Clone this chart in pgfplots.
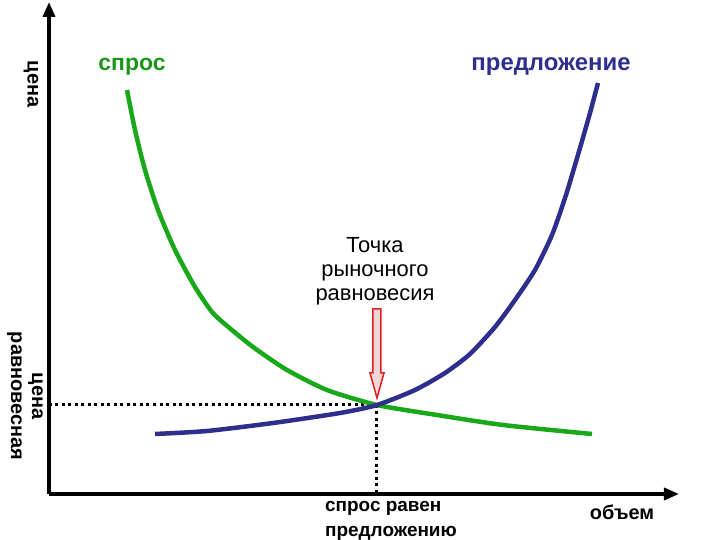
\documentclass[border=0pt]{standalone}
\usepackage{pgfplots}
\pgfplotsset{compat=1.18}
\usepackage{fontspec}
\setmainfont{Liberation Sans}
\usetikzlibrary{arrows.meta}
\definecolor{dgreen}{RGB}{25,168,25}
\definecolor{tgreen}{RGB}{25,150,25}
\definecolor{navy}{RGB}{46,46,140}
\definecolor{arrfill}{RGB}{240,214,214}
\definecolor{arrred}{RGB}{225,30,30}
\begin{document}
\begin{tikzpicture}
\useasboundingbox (-49bp,-46bp) rectangle (671bp,494bp);
\begin{axis}[
  scale only axis, width=630bp, height=492bp,
  xmin=0, xmax=630, ymin=0, ymax=492,
  axis lines=left,
  axis line style={line width=3.5bp, -{Triangle[length=15bp,width=12bp]}},
  xtick=\empty, ytick=\empty,
  clip=false,
]
% dotted guides
\addplot[black, line width=3bp, dash pattern=on 3bp off 3.5bp] coordinates {(0,89) (328,89)};
\addplot[black, line width=3bp, dash pattern=on 3bp off 3.5bp] coordinates {(328,89) (328,0)};
% demand
\addplot[dgreen, line width=4.5bp, smooth, tension=0.4] coordinates {
(78,404) (86,364) (96,324) (109,284) (126,244) (146,207) (163,182) (177,169)
(204,147) (238,124) (278,104) (328,89) (388,79) (454,69) (543,60)};
% supply
\addplot[navy, line width=4.5bp, smooth, tension=0.4] coordinates {
(106,60) (158,63) (224,71) (291,81) (328,89) (366,104) (396,121) (421,140)
(446,167) (466,194) (486,224) (503,259) (517,299) (531,346) (541,381) (549,411)};
% equilibrium arrow
\addplot[draw=arrred, fill=arrfill, line width=1.5bp] coordinates {
(324,185) (332,185) (332,121) (335,121) (328,96) (321,121) (324,121)} -- cycle;
% texts
\node[text=tgreen, font=\fontsize{23}{26}\selectfont\bfseries] at (axis cs:83,427) {спрос};
\node[text=navy, font=\fontsize{24}{26}\selectfont\bfseries] at (axis cs:502,427) {предложение};
\node[rotate=-90, font=\fontsize{20}{24}\selectfont\bfseries] at (axis cs:-18,410) {цена};
\node[rotate=-90, align=center, font=\fontsize{20}{21}\selectfont\bfseries] at (axis cs:-24,98) {цена\\равновесная};
\node[align=center, font=\fontsize{22}{24}\selectfont] at (axis cs:326,223) {Точка\\рыночного\\равновесия};
\node[anchor=west, align=left, font=\fontsize{19}{25}\selectfont\bfseries, inner sep=0pt] at (axis cs:276,-27) {спрос равен\\предложению};
\node[font=\fontsize{20}{24}\selectfont\bfseries] at (axis cs:573,-18) {объем};
\end{axis}
\end{tikzpicture}
\end{document}
